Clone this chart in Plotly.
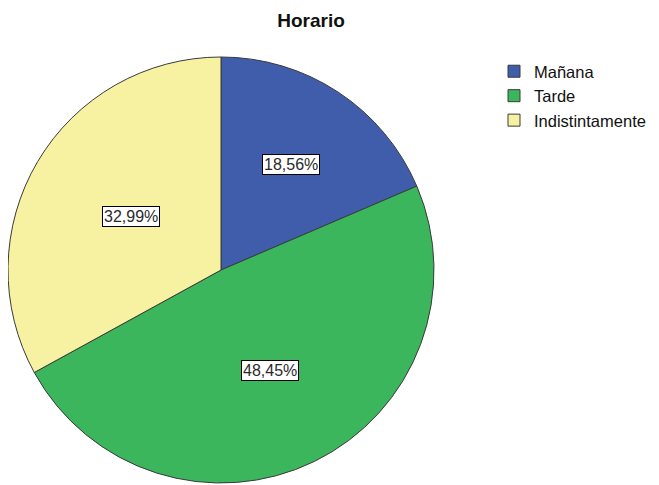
import math
import plotly.graph_objects as go

# Data
categories = ["Mañana", "Tarde", "Indistintamente"]
counts = [18, 47, 32]
colors = ["#3F5DAB", "#3CB65C", "#F6F2A2"]

W, H = 659, 485
OFF = 8  # page body margin offset (screen = figure + OFF)

# pie geometry in screen pixels, converted to figure pixels
cx_px, cy_px = 221 - OFF, 270 - OFF
r_px = min(cx_px, 214)
dom_x = [max(0, (cx_px - r_px) / W), (cx_px + r_px) / W]
dom_y = [1 - (cy_px + r_px) / H, 1 - (cy_px - r_px) / H]

fig = go.Figure(go.Pie(
    labels=categories,
    values=counts,
    marker=dict(colors=colors, line=dict(color="#3a3a3a", width=1)),
    sort=False,
    direction="clockwise",
    rotation=0,
    textinfo="none",
    hoverinfo="label+percent",
    domain=dict(x=dom_x, y=dom_y),
))

# percentage labels placed via data-derived angles
total = sum(counts)
cum = 0
label_frac = [0.59, 0.52, 0.49]
annotations = []
for i, v in enumerate(counts):
    mid = (cum + v / 2) / total * 2 * math.pi
    cum += v
    rr = 214 * label_frac[i]
    x_px = cx_px + rr * math.sin(mid)
    y_px = cy_px - rr * math.cos(mid)
    pct = v / total * 100
    txt = f"{pct:.2f}%".replace(".", ",")
    annotations.append(dict(
        x=x_px / W, y=1 - y_px / H, xref="paper", yref="paper",
        xanchor="center", yanchor="middle",
        text=txt, showarrow=False,
        font=dict(family="Liberation Sans, Arial, sans-serif", size=16, color="#2a2a2a"),
        bgcolor="white", bordercolor="black", borderwidth=1, borderpad=1,
    ))

fig.update_layout(
    width=W, height=H,
    margin=dict(l=0, r=0, t=0, b=0, autoexpand=False),
    paper_bgcolor="white",
    plot_bgcolor="white",
    title=dict(text="<b>Horario</b>", x=(311 - OFF) / W, xanchor="center",
               y=1 - (20 - OFF) / H, yanchor="middle",
               font=dict(family="Liberation Sans, Arial, sans-serif", size=19, color="#111")),
    legend=dict(x=(494 - OFF) / W, y=1 - (54 - OFF) / H, xanchor="left", yanchor="top",
                font=dict(family="Liberation Sans, Arial, sans-serif", size=16.5, color="#111"),
                tracegroupgap=0, itemwidth=30, bgcolor="rgba(0,0,0,0)"),
    annotations=annotations,
    showlegend=True,
)

fig.write_html("out.html")
